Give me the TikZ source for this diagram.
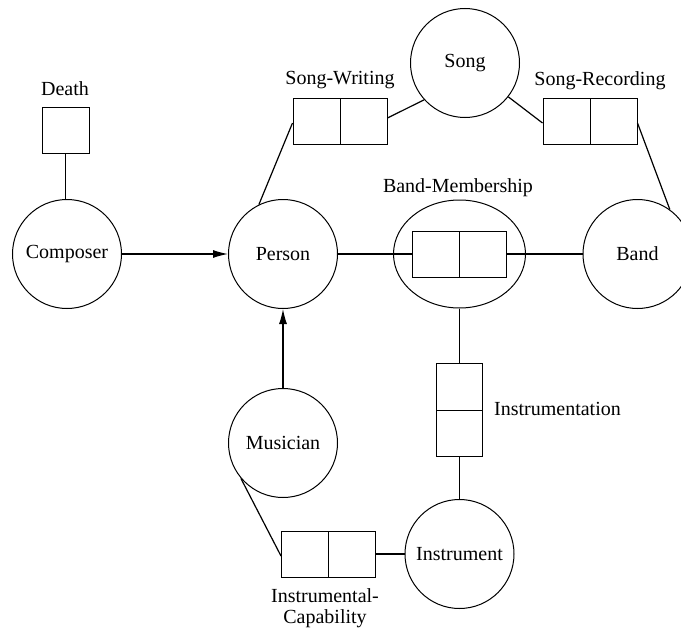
\documentclass[tikz,border=0pt]{standalone}
\usepackage{fontspec}
\setmainfont{Liberation Serif}
\usetikzlibrary{shapes.geometric,arrows.meta}
\begin{document}
\begin{tikzpicture}[x=1pt,y=-1pt,
  every node/.style={font=\fontsize{20}{20}\selectfont},
  entity/.style={circle,draw,line width=1pt,minimum size=109pt,inner sep=0pt},
  relbox/.style={draw,line width=1pt,minimum width=94pt,minimum height=46pt,inner sep=0pt,
    path picture={\draw[line width=1pt] (path picture bounding box.north) -- (path picture bounding box.south);}},
  relboxv/.style={draw,line width=1pt,minimum width=46pt,minimum height=93pt,inner sep=0pt,
    path picture={\draw[line width=1pt] (path picture bounding box.west) -- (path picture bounding box.east);}},
  unarybox/.style={draw,line width=1pt,minimum width=47pt,minimum height=46pt,inner sep=0pt},
  link/.style={line width=1.2pt},
  isa/.style={line width=1.2pt,-{Latex[length=15pt,width=8pt]}},
  lbl/.style={inner sep=0pt}]
\path[use as bounding box] (0,0) rectangle (681,629);
\clip (0,0) rectangle (681,629);

% entity types
\node[entity] (composer) at (67,254) {Composer};
\node[entity] (person) at (283,254) {Person};
\node[entity] (song) at (465,63) {Song};
\node[entity] (band) at (637.5,254) {Band};
\node[entity] (musician) at (283,443) {Musician};
\node[entity] (instrument) at (459.5,554) {Instrument};
\node[ellipse,draw,line width=1pt,minimum width=132pt,minimum height=108pt,inner sep=0pt] (bmell) at (459.5,254) {};

% fact types
\node[unarybox] (death) at (65.5,130) {};
\node[relbox] (sw) at (340,121) {};
\node[relbox] (sr) at (590,121) {};
\node[relbox] (bm) at (459.5,254) {};
\node[relboxv] (instr) at (459.5,410) {};
\node[relbox] (ic) at (328.5,554) {};

% fact type names
\node[lbl] (deathlbl) at (65,89) {Death};
\node[lbl] (swlbl) at (340,80) {Song-Writing};
\node[lbl] (srlbl) at (600,81) {Song-Recording};
\node[lbl] (bmlbl) at (458,188) {Band-Membership};
\node[lbl,anchor=west] (instrlbl) at (494,409) {Instrumentation};
\node[lbl,align=center,font=\fontsize{20}{20.5}\selectfont] (iclbl) at (325,608) {Instrumental-\\Capability};

% roles
\draw[link] (death.south) -- (death.south |- composer.north);
\draw[link] (person.116) -- ([yshift=-2pt]sw.west);
\draw[link] ([yshift=3pt]sw.east) -- (song.222);
\draw[link] (song.322) -- ([yshift=-2pt]sr.west);
\draw[link] ([yshift=-2pt]sr.east) -- (band.54);
\draw[link] (person.east) -- (bm.west);
\draw[link] (bm.east) -- (band.west);
\draw[link] (bmell.south) -- (instr.north);
\draw[link] (instr.south) -- (instrument.north);
\draw[link] (musician.220) -- ([yshift=-2pt]ic.west);
\draw[link] (ic.east) -- (instrument.west);

% subtype links
\draw[isa] (composer.east) -- (person.west);
\draw[isa] (musician.north) -- (person.south);
\end{tikzpicture}
\end{document}
